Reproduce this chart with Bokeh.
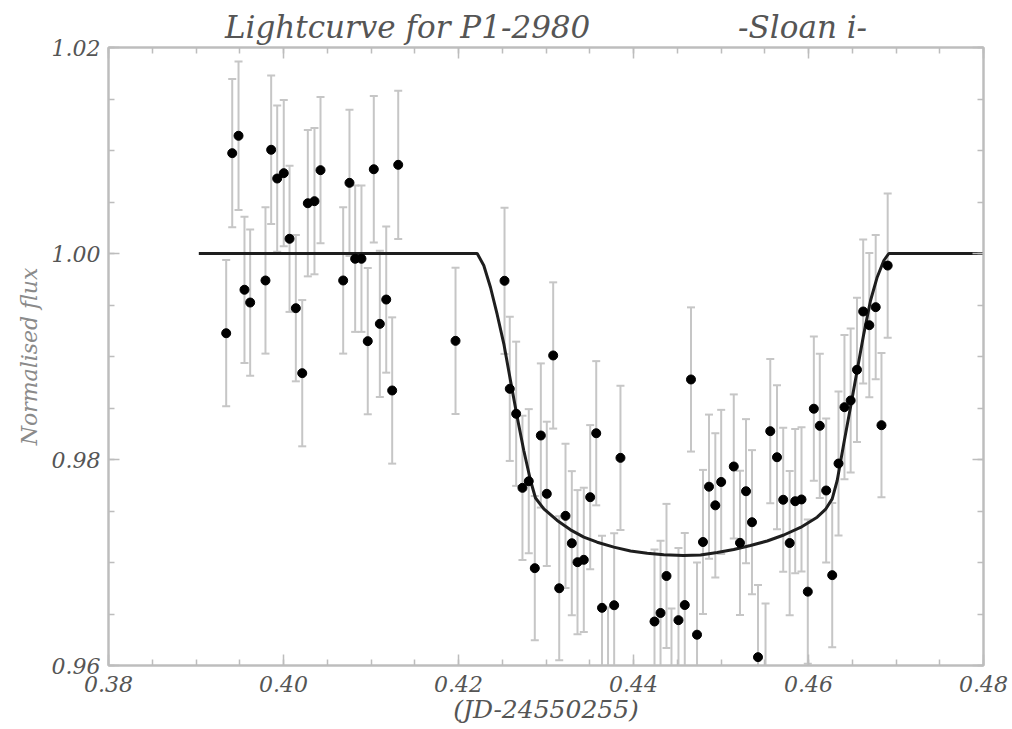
from bokeh.plotting import figure
from bokeh.models import (Range1d, LinearAxis, SingleIntervalTicker, PrintfTickFormatter,
                          ColumnDataSource, CustomJSTickFormatter)
from bokeh.embed import file_html
from bokeh.resources import INLINE

# ---- data ----
time_jd = [0.39345, 0.39414, 0.39486, 0.39554, 0.39619, 0.39794, 0.39859, 0.39928, 0.40003, 0.40069,
           0.40141, 0.40214, 0.40278, 0.40354, 0.40423, 0.40682, 0.40754, 0.40819, 0.40891, 0.40963,
           0.41032, 0.41101, 0.41174, 0.41242, 0.41311, 0.41966, 0.42526, 0.42586, 0.42659, 0.42731,
           0.42803, 0.42872, 0.42941, 0.43009, 0.43082, 0.43151, 0.43223, 0.43295, 0.43360, 0.43432,
           0.43505, 0.43574, 0.43640, 0.43709, 0.43779, 0.43851, 0.44240, 0.44309, 0.44377, 0.44434,
           0.44514, 0.44586, 0.44657, 0.44726, 0.44794, 0.44863, 0.44935, 0.45002, 0.45146, 0.45217,
           0.45286, 0.45354, 0.45423, 0.45509, 0.45563, 0.45640, 0.45711, 0.45785, 0.45848, 0.45920,
           0.45992, 0.46061, 0.46129, 0.46202, 0.46271, 0.46343, 0.46411, 0.46482, 0.46554, 0.46625,
           0.46695, 0.46768, 0.46834, 0.46905]
flux = [0.99226, 1.00974, 1.01143, 0.99648, 0.99524, 0.99738, 1.01007, 1.00728, 1.00780, 1.00143,
        0.99469, 0.98838, 1.00488, 1.00508, 1.00809, 0.99738, 1.00686, 0.99949, 0.99949, 0.99149,
        1.00818, 0.99317, 0.99553, 0.98670, 1.00861, 0.99152, 0.99735, 0.98686, 0.98444, 0.97725,
        0.97789, 0.96945, 0.98233, 0.97667, 0.99010, 0.96750, 0.97453, 0.97187, 0.97003, 0.97026,
        0.97634, 0.98255, 0.96560, 0.95864, 0.96585, 0.98016, 0.96427, 0.96510, 0.96869, 0.95854,
        0.96440, 0.96587, 0.98777, 0.96299, 0.97199, 0.97736, 0.97555, 0.97782, 0.97932, 0.97191,
        0.97692, 0.97391, 0.96081, 0.95903, 0.98275, 0.98022, 0.97609, 0.97189, 0.97595, 0.97612,
        0.96717, 0.98493, 0.98327, 0.97699, 0.96877, 0.97961, 0.98508, 0.98573, 0.98871, 0.99437,
        0.99304, 0.99479, 0.98333, 0.99883]
flux_err = [0.0071, 0.0072, 0.0072, 0.0071, 0.0071, 0.0071, 0.0072, 0.0071, 0.0071, 0.0071,
            0.0071, 0.0071, 0.0071, 0.0071, 0.0071, 0.0071, 0.0071, 0.0071, 0.0071, 0.0071,
            0.0071, 0.0071, 0.0071, 0.0071, 0.0072, 0.0071, 0.0071, 0.0070, 0.0070, 0.0070,
            0.0070, 0.0070, 0.0070, 0.0070, 0.0071, 0.0070, 0.0070, 0.0070, 0.0070, 0.0070,
            0.0070, 0.0070, 0.0070, 0.0070, 0.0070, 0.0070, 0.0070, 0.0070, 0.0070, 0.0070,
            0.0070, 0.0070, 0.0070, 0.0070, 0.0070, 0.0070, 0.0070, 0.0070, 0.0070, 0.0070,
            0.0070, 0.0070, 0.0070, 0.0070, 0.0070, 0.0070, 0.0070, 0.0070, 0.0070, 0.0070,
            0.0070, 0.0070, 0.0070, 0.0070, 0.0070, 0.0070, 0.0070, 0.0070, 0.0070, 0.0070,
            0.0070, 0.0070, 0.0070, 0.0070]

model_time = [0.39032, 0.42214, 0.42289, 0.42366, 0.42442, 0.42518, 0.42594, 0.42671, 0.42746, 0.42823,
              0.42880, 0.42975, 0.43128, 0.43280, 0.43432, 0.43585, 0.43775, 0.43966, 0.44157, 0.44346,
              0.44571, 0.44766, 0.44957, 0.45146, 0.45337, 0.45528, 0.45718, 0.45909, 0.46099, 0.46194,
              0.46271, 0.46328, 0.46403, 0.46480, 0.46556, 0.46632, 0.46709, 0.46785, 0.46861, 0.46918,
              0.48000]
model_flux = [1.0, 1.0, 0.99883, 0.99670, 0.99408, 0.99123, 0.98767, 0.98411, 0.98087, 0.97796,
              0.97626, 0.97521, 0.97408, 0.97317, 0.97246, 0.97197, 0.97149, 0.97112, 0.97090, 0.97075,
              0.97068, 0.97073, 0.97097, 0.97126, 0.97165, 0.97209, 0.97267, 0.97340, 0.97440, 0.97515,
              0.97618, 0.97796, 0.98152, 0.98508, 0.98864, 0.99220, 0.99544, 0.99770, 0.99932, 1.0,
              1.0]

title_left = "Lightcurve for P1-2980"
title_right = "-Sloan i-"
x_label = "(JD-24550255)"
y_label = "Normalised flux"

FONT = "DejaVu Serif"
TXT = "#555555"
AX = "#bdbdbd"

lower = [f - e for f, e in zip(flux, flux_err)]
upper = [f + e for f, e in zip(flux, flux_err)]
src = ColumnDataSource(dict(x=time_jd, y=flux, lo=lower, hi=upper))

p = figure(width=1012, height=729, output_backend="svg", toolbar_location=None,
           x_range=Range1d(0.38, 0.48), y_range=Range1d(0.96, 1.02),
           min_border_left=108, min_border_right=29, min_border_top=47, min_border_bottom=64,
           title=title_left + "\u00a0" * 15 + title_right)
p.title.align = "center"
p.title.text_font = FONT
p.title.text_font_style = "italic"
p.title.text_font_size = "31px"
p.title.text_color = TXT
p.title.standoff = 6
p.title.offset = 0

p.xgrid.visible = False
p.ygrid.visible = False
p.outline_line_color = AX
p.outline_line_width = 2
p.background_fill_color = "white"
p.border_fill_color = "white"

def style_axis(ax, size="22px"):
    ax.axis_line_color = AX
    ax.axis_line_width = 2
    ax.major_tick_line_color = AX
    ax.minor_tick_line_color = AX
    ax.major_tick_line_width = 1.5
    ax.minor_tick_line_width = 1.5
    ax.major_tick_in = 11
    ax.major_tick_out = 0
    ax.minor_tick_in = 6
    ax.minor_tick_out = 0
    ax.major_label_text_font = FONT
    ax.major_label_text_font_style = "italic"
    ax.major_label_text_font_size = size
    ax.major_label_text_color = TXT
    ax.axis_label_text_font = FONT
    ax.axis_label_text_font_style = "italic"
    ax.axis_label_text_color = TXT

fmt = PrintfTickFormatter(format="%.2f")
blank = CustomJSTickFormatter(code="return '';")

p.xaxis.ticker = SingleIntervalTicker(interval=0.02, num_minor_ticks=4)
p.yaxis.ticker = SingleIntervalTicker(interval=0.02, num_minor_ticks=4)
p.xaxis.formatter = fmt
p.yaxis.formatter = fmt
style_axis(p.xaxis[0])
style_axis(p.yaxis[0])
p.xaxis.axis_label = x_label
p.yaxis.axis_label = y_label
p.xaxis.axis_label_text_font_size = "25px"
p.yaxis.axis_label_text_font_size = "22px"
p.yaxis.axis_label_text_color = "#8a8a8a"
p.xaxis.major_label_standoff = 10
p.xaxis.axis_label_standoff = 0
p.yaxis.major_label_standoff = 8
p.yaxis.axis_label_standoff = 7

top = LinearAxis(ticker=SingleIntervalTicker(interval=0.02, num_minor_ticks=4),
                 formatter=blank, major_label_standoff=0)
right = LinearAxis(ticker=SingleIntervalTicker(interval=0.02, num_minor_ticks=4),
                   formatter=blank, major_label_standoff=0)
style_axis(top, size="10px")
style_axis(right, size="10px")
p.add_layout(top, "above")
p.add_layout(right, "right")

# error bars
p.segment(x0="x", y0="lo", x1="x", y1="hi", source=src, line_color="#c6c6c6", line_width=2)
p.scatter(x="x", y="lo", source=src, marker="dash", size=8, line_color="#c6c6c6", line_width=2)
p.scatter(x="x", y="hi", source=src, marker="dash", size=8, line_color="#c6c6c6", line_width=2)

# model
p.line(model_time, model_flux, line_color="#1e1e1e", line_width=3)

# data points
p.scatter(x="x", y="y", source=src, size=9, fill_color="black", line_color="black")

open("out.html", "w").write(file_html(p, INLINE))
